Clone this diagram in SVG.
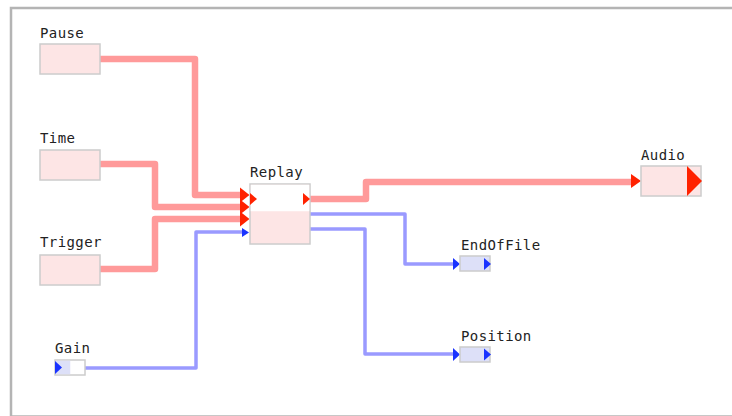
<svg xmlns="http://www.w3.org/2000/svg" width="732" height="416" viewBox="0 0 732 416">
  <style>
    .frame { fill: #ffffff; stroke: #b4b4b4; stroke-width: 2.5; }
    .lbl { font-family: "DejaVu Sans Mono", "Liberation Mono", monospace; font-size: 14px; letter-spacing: 0.4px; fill: #222222; }
    .box-red { fill: #fde5e5; stroke: #cccccc; stroke-width: 1.5; }
    .box-blue { fill: #dde0f8; stroke: #cccccc; stroke-width: 1.5; }
    .box-white { fill: #ffffff; stroke: none; }
    .w-audio { fill: none; stroke: #ff9a9a; stroke-width: 6.5; stroke-linejoin: round; }
    .w-ctrl { fill: none; stroke: #9a9aff; stroke-width: 3.5; stroke-linejoin: round; }
    .a-red { fill: #ff2200; }
    .a-blue { fill: #1a33ff; }
  </style>

  <rect class="frame" x="11" y="8" width="740" height="408.5"/>

  <!-- connectors -->
  <g id="connectors">
    <path class="w-audio" d="M100,59 H195 V195 H241"/>
    <path class="w-audio" d="M100,164 H155 V207 H241"/>
    <path class="w-audio" d="M100,269 H155 V219 H241"/>
    <path class="w-ctrl" d="M85,368 H196 V232 H243"/>
    <path class="w-audio" d="M310,199 H366 V182 H632"/>
    <path class="w-ctrl" d="M310,214 H405 V264 H454"/>
    <path class="w-ctrl" d="M310,229 H365 V354 H454"/>
    <!-- arrowheads at inputs -->
    <polygon class="a-red" points="240,187.5 249.5,195 240,202.5"/>
    <polygon class="a-red" points="240,199.5 249.5,207 240,214.5"/>
    <polygon class="a-red" points="240,211.5 249.5,219 240,226.5"/>
    <polygon class="a-blue" points="242,228 249,232.5 242,237"/>
    <polygon class="a-red" points="631,174 641,181 631,188"/>
    <polygon class="a-blue" points="453,258 460,264 453,270"/>
    <polygon class="a-blue" points="453,348 460,354.5 453,361"/>
  </g>

  <g id="pause">
    <text class="lbl" x="40" y="38">Pause</text>
    <rect class="box-red" x="40" y="44" width="60" height="30"/>
  </g>

  <g id="time">
    <text class="lbl" x="40" y="143">Time</text>
    <rect class="box-red" x="40" y="150" width="60" height="30"/>
  </g>

  <g id="trigger">
    <text class="lbl" x="40" y="247">Trigger</text>
    <rect class="box-red" x="40" y="255" width="60" height="30"/>
  </g>

  <g id="gain">
    <text class="lbl" x="55" y="353">Gain</text>
    <rect fill="#ffffff" stroke="#cccccc" stroke-width="1.5" x="55" y="360" width="30" height="15"/>
    <rect fill="#dde0f8" x="55.75" y="360.75" width="14.5" height="13.5"/>
    <polygon class="a-blue" points="55,361 62,367.5 55,374"/>
  </g>

  <g id="replay">
    <text class="lbl" x="250" y="177">Replay</text>
    <rect class="box-red" x="250" y="184" width="60" height="60"/>
    <rect class="box-white" x="250.75" y="184.75" width="58.5" height="26.5"/>
    <polygon class="a-red" points="250,193 257,199 250,205"/>
    <polygon class="a-red" points="303,193 310,199 303,205"/>
  </g>

  <g id="audio">
    <text class="lbl" x="641" y="160">Audio</text>
    <rect class="box-red" x="641" y="166" width="60" height="30"/>
    <polygon class="a-red" points="687,166 702,181 687,196"/>
  </g>

  <g id="endoffile">
    <text class="lbl" x="461" y="250">EndOfFile</text>
    <rect class="box-blue" x="460" y="256" width="30" height="15"/>
    <polygon class="a-blue" points="484,258 491,264 484,270"/>
  </g>

  <g id="position">
    <text class="lbl" x="461" y="341">Position</text>
    <rect class="box-blue" x="460" y="347" width="30" height="15"/>
    <polygon class="a-blue" points="484,348.5 491,354.5 484,360.5"/>
  </g>
</svg>
